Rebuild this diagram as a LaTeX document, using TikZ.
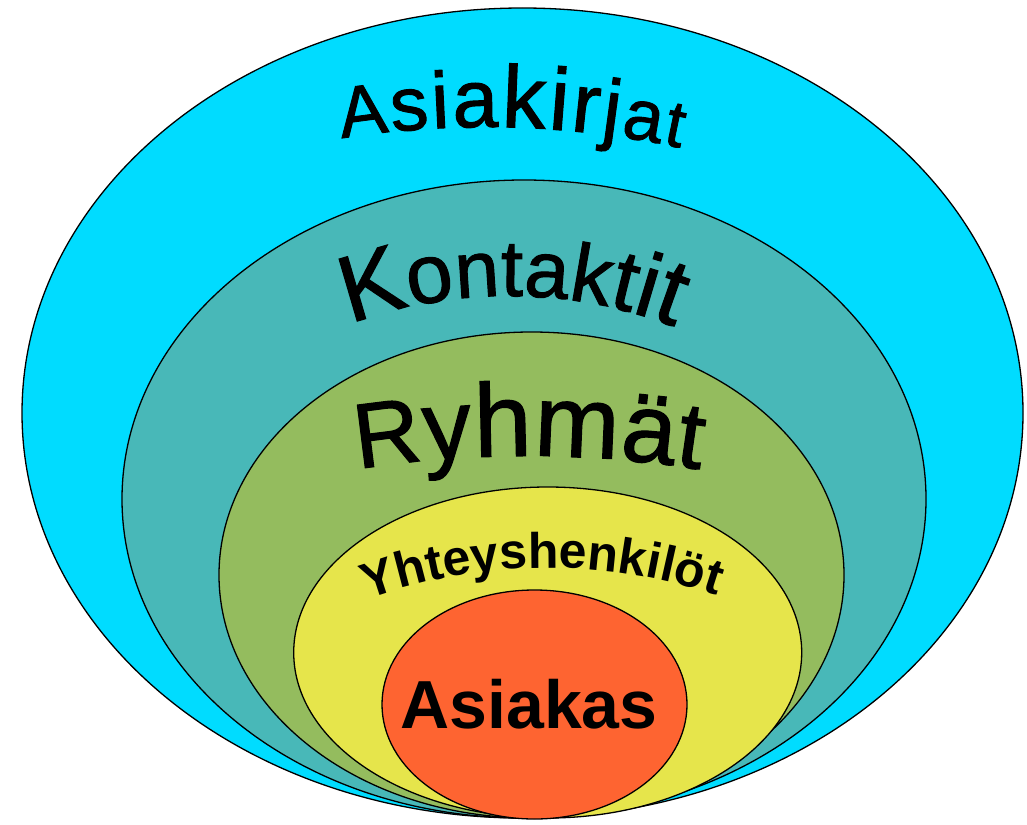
\documentclass[tikz,border=0pt]{standalone}
\usepackage{fontspec}
\setmainfont{Liberation Sans}
\newfontfamily\heavy[FakeBold=1.2]{Liberation Sans}
\newcommand\wsz[1]{\heavy\fontsize{#1}{#1}\selectfont}
\usetikzlibrary{decorations.text}
\definecolor{cCyan}{HTML}{00DCFF}
\definecolor{cTeal}{HTML}{48B8B8}
\definecolor{cGreen}{HTML}{94BC5E}
\definecolor{cYellow}{HTML}{E6E54B}
\definecolor{cOrange}{HTML}{FE6431}
\begin{document}
\begin{tikzpicture}[x=1pt,y=1pt,
  ring/.style={draw=black, line width=1.3pt},
  arctext/.style={decorate, decoration={text along path, text align=fit to path, text={#1}}}]
\useasboundingbox (0,0) rectangle (1027,-824);
\filldraw[ring, fill=cCyan]   (522.5,-413)   ellipse [x radius=500.5, y radius=405];
\filldraw[ring, fill=cTeal]   (524,-499)     ellipse [x radius=402,   y radius=319];
\filldraw[ring, fill=cGreen]  (531.5,-575)   ellipse [x radius=312.5, y radius=243];
\filldraw[ring, fill=cYellow] (547.7,-652.5) ellipse [x radius=254,   y radius=165.5];
\filldraw[ring, fill=cOrange] (534.5,-704.5) ellipse [x radius=152.5, y radius=114.5];
\path[shift={(486,-1039)}, arctext={|\wsz{72}|A|\wsz{76}|s|\wsz{80}|i|\wsz{82}|a|\wsz{88}|k|\wsz{88}|i|\wsz{84}|r|\wsz{80}|j|\wsz{72}|a|\wsz{66}|t}]
  (99.1:912) arc[start angle=99.1, end angle=77.7, radius=912];
\path[shift={(509,-756)}, arctext={|\wsz{94}|K|\wsz{84}|o|\wsz{80}|n|\wsz{80}|t|\wsz{80}|a|\wsz{82}|k|\wsz{86}|t|\wsz{90}|i|\wsz{94}|t}]
  (110.2:460) arc[start angle=110.2, end angle=69.1, radius=460];
\path[shift={(528,-1556)}, arctext={|\wsz{92}|R|\wsz{98}|y|\wsz{104}|h|\wsz{102}|m|\wsz{98}|ä|\wsz{94}|t}]
  (98.9:1100) arc[start angle=98.9, end angle=81, radius=1100];
\path[shift={(548,-1100)}, arctext={|\fontsize{50}{50}\selectfont\bfseries|Yhteyshenkilöt}]
  (109.8:532) arc[start angle=109.8, end angle=72.3, radius=532];
\node[anchor=base, inner sep=0pt, font=\fontsize{68}{70}\selectfont\bfseries] (asiakas) at (529,-728) {Asiakas};
\end{tikzpicture}
\end{document}
